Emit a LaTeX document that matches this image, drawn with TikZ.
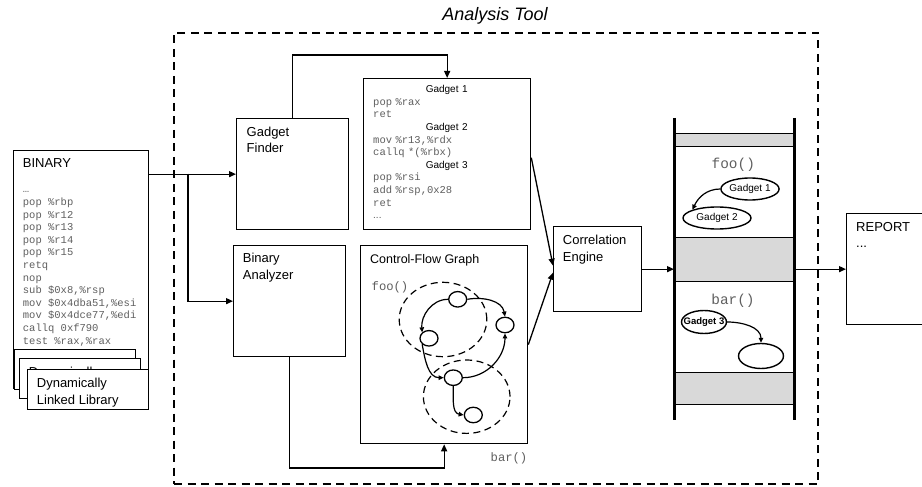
\documentclass[tikz,border=0pt]{standalone}
\usepackage{fontspec}
\setmainfont{Liberation Sans}
\setmonofont{Liberation Mono}
\usetikzlibrary{positioning, arrows.meta, shapes.geometric}
\definecolor{codegray}{RGB}{95,95,95}
\definecolor{bandgray}{RGB}{217,217,217}
\newcommand{\hdr}[1]{\makebox[\linewidth]{\color{black}\rmfamily\fontsize{10}{12.6}\selectfont #1}}

\begin{document}
\begin{tikzpicture}[x=1pt, y=-1pt,
    box/.style={draw, line width=1.3pt, fill=white, inner sep=0pt, anchor=north west},
    txt/.style={anchor=north west, inner sep=0pt, align=left, font=\fontsize{13}{16.5}\selectfont},
    code/.style={anchor=north west, inner sep=0pt, align=left, text=codegray, font=\ttfamily\fontsize{10.5}{12.6}\selectfont},
    mono/.style={inner sep=0pt, text=codegray, font=\ttfamily\fontsize{12.2}{14}\selectfont},
    arr/.style={-{Triangle[length=7pt,width=6pt]}, line width=1.3pt},
    flow/.style={-{Triangle[length=5pt,width=4.5pt]}, line width=1.2pt},
    bb/.style={ellipse, draw, fill=white, line width=1.3pt, inner sep=0pt, minimum width=18pt, minimum height=15.5pt},
    region/.style={ellipse, draw, line width=1.2pt, dash pattern=on 7pt off 4.5pt, inner sep=0pt},
    band/.style={draw, line width=0.6pt, fill=bandgray, anchor=north west, inner sep=0pt, minimum width=120pt},
    gad/.style={ellipse, draw, line width=1.4pt, inner sep=0pt, minimum height=22pt, font=\fontsize{10}{12}\selectfont}]
  \useasboundingbox (0,0) rectangle (922,487);

  % analysis tool frame
  \node[box, fill=none, line width=2pt, dash pattern=on 8pt off 5.5pt,
        minimum width=644pt, minimum height=451pt] (tool) at (173,32) {};
  \node[font=\itshape\fontsize{18}{22}\selectfont, anchor=base] (title) at (495,20.5) {Analysis Tool};

  % input binary and libraries
  \node[box, minimum width=135pt, minimum height=238pt] (binary) at (13,150) {};
  \node[txt, anchor=base west] (binlabel) at (22.7,167.7) {BINARY};
  \node[code] (bincode) at (22.7,183.8) {\strut…\\pop \%rbp\\pop \%r12\\pop \%r13\\pop \%r14\\pop \%r15\\retq\\nop\\sub \$0x8,\%rsp\\mov \$0x4dba51,\%esi\\mov \$0x4dce77,\%edi\\callq 0xf790\\test \%rax,\%rax};
  \foreach \x/\y [count=\n] in {14/349, 19/358, 27/369} {
    \node[box, minimum width=121pt, minimum height=40pt] (lib\n) at (\x,\y) {};
    \ifnum\n>1
      \node[txt] (libtext\n) at ([shift={(9.7,6.8)}]lib\n.north west) {\strut Dynamically\\Linked Library};
    \fi
  }

  % gadget finder
  \node[box, minimum width=112pt, minimum height=111pt] (finder) at (236,118) {};
  \node[txt] (findertext) at ([shift={(10.5,6.5)}]finder.north west) {\strut Gadget\\Finder};
  \node[box, minimum width=167pt, minimum height=151pt] (gadgets) at (363,78) {};
  \node[code, text width=147pt] (gadgetcode) at (373,83.7) {\strut\hdr{Gadget 1}\\pop \%rax\\ret\\\hdr{Gadget 2}\\mov \%r13,\%rdx\\callq *(\%rbx)\\\hdr{Gadget 3}\\pop \%rsi\\add \%rsp,0x28\\ret\\{\rmfamily\fontsize{10}{12.6}\selectfont...}};

  % binary analyzer
  \node[box, minimum width=112pt, minimum height=111pt] (analyzer) at (233,245) {};
  \node[txt] (analyzertext) at ([shift={(9.7,6)}]analyzer.north west) {\strut Binary\\Analyzer};
  \node[box, minimum width=167pt, minimum height=198pt] (cfg) at (360,245) {};
  \node[txt, anchor=base west, font=\fontsize{12.5}{15}\selectfont] (cfgtitle) at (370,263) {Control-Flow Graph};
  \node[mono] (cfgfoo) at (390,287) {foo()};
  \node[mono] (cfgbar) at (509,458) {bar()};
  \node[region, minimum width=87.6pt, minimum height=74.4pt] (fooregion) at (443,319.5) {};
  \node[region, minimum width=86.6pt, minimum height=73.4pt] (barregion) at (466.7,396.7) {};
  \node[bb] (bb1) at (457.7,299.3) {};
  \node[bb] (bb2) at (505,325) {};
  \node[bb] (bb3) at (429,338.3) {};
  \node[bb] (bb4) at (453.3,377.7) {};
  \node[bb] (bb5) at (473.3,415) {};
  \draw[flow] (bb1.east) to[out=10, in=100] (bb2.north);
  \draw[flow] (bb1.west) to[out=180, in=95] (bb3.north west);
  \draw[flow] (bb3.south west) to[out=-80, in=180] (bb4.west);
  \draw[flow] (bb4.east) to[out=0, in=-90] (bb2.south);
  \draw[flow] (bb4.south) to[out=-90, in=170] (bb5.west);

  % correlation and stack
  \node[box, minimum width=88pt, minimum height=85pt] (corr) at (553,226) {};
  \node[txt] (corrtext) at ([shift={(9.7,6.8)}]corr.north west) {\strut Correlation\\Engine};
  \node[inner sep=0pt, minimum width=120pt, minimum height=302pt, anchor=north west] (stack) at (674,118) {};
  \node[band, minimum height=13pt] (band1) at (674,133) {};
  \node[band, minimum height=44pt] (band2) at (674,237) {};
  \node[band, minimum height=32pt] (band3) at (674,372) {};
  \draw[line width=3pt] (stack.north west) -- (stack.south west);
  \draw[line width=3pt] (stack.north east) -- (stack.south east);
  \node[mono, font=\ttfamily\fontsize{14.4}{16}\selectfont] (stackfoo) at (733.3,165) {foo()};
  \node[mono, font=\ttfamily\fontsize{14.4}{16}\selectfont] (stackbar) at (733,301) {bar()};
  \node[gad, minimum width=58pt] (g1) at (750,189) {Gadget 1};
  \node[gad, minimum width=68pt] (g2) at (717,218) {Gadget 2};
  \node[gad, minimum width=45pt, minimum height=23pt, inner xsep=-7pt, font=\bfseries\fontsize{9.5}{11}\selectfont] (g3) at (704,322) {Gadget 3};
  \node[gad, minimum width=45pt, minimum height=25pt] (g4) at (761,356) {};
  \draw[flow] (g1.west) to[out=180, in=65] (g2.north west);
  \draw[flow] (g3.east) to[out=0, in=90] (g4.north);

  % report
  \node[box, minimum width=78pt, minimum height=111pt] (report) at (846,213) {};
  \node[txt] (reporttext) at ([shift={(10,6.5)}]report.north west) {\strut REPORT\\...};

  % connectors
  \coordinate (split) at (188,173.5);
  \coordinate (over) at (292,55);
  \coordinate (under) at (289,468);
  \draw[arr] (finder.west -| binary.east) -- (finder.west);
  \draw[arr] (split) |- (analyzer.west);
  \draw[arr] (finder.north) |- (over) -| (gadgets.north);
  \draw[arr] (analyzer.south) |- (under) -| (cfg.south);
  \draw[arr] ([yshift=-3.5pt]gadgets.east) -- ([yshift=3.5pt]corr.west);
  \draw[arr] (cfg.east) -- ([yshift=-3.5pt]corr.west);
  \draw[arr] (corr.east) -- (corr.east -| stack.west);
  \draw[arr] (report.west -| stack.east) -- (report.west);
\end{tikzpicture}
\end{document}
